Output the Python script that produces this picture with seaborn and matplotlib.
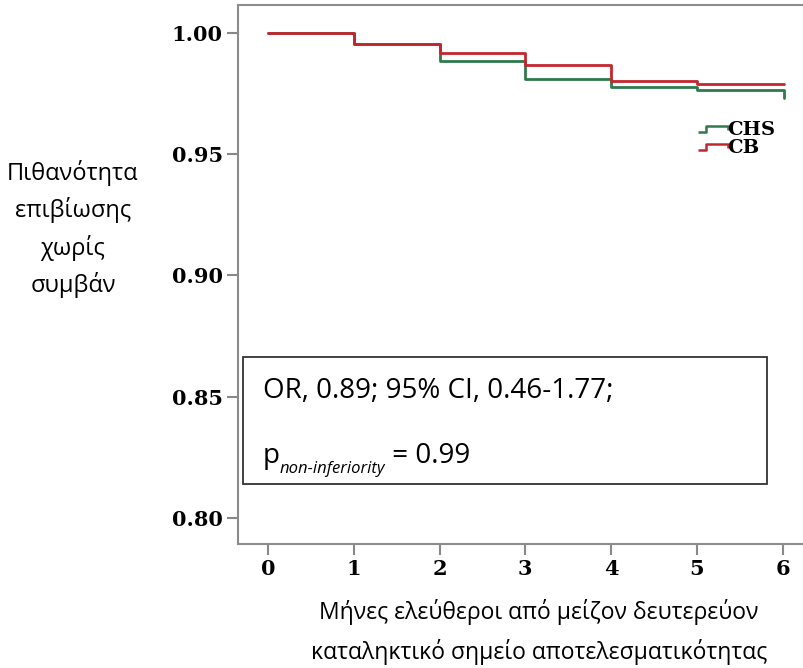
import numpy as np
import pandas as pd
import matplotlib
matplotlib.use("Agg")
import matplotlib.pyplot as plt
import seaborn as sns
from matplotlib.lines import Line2D
from matplotlib.path import Path
from matplotlib.patches import Rectangle
from matplotlib.font_manager import FontProperties

# Kaplan-Meier style step values
months_chs = [0, 1, 2, 3, 4, 5, 6.0, 6.02]
surv_chs = [1.000, 0.9955, 0.9884, 0.9808, 0.9778, 0.9765, 0.9765, 0.9732]
months_cb = [0, 1, 2, 3, 4, 5, 6.02]
surv_cb = [1.000, 0.9955, 0.9918, 0.9866, 0.9801, 0.9790, 0.9790]
groups = ["CHS", "CB"]
colors = {"CHS": "#2e7a4c", "CB": "#c4262e"}
xticks = [0, 1, 2, 3, 4, 5, 6]
yticks = [0.80, 0.85, 0.90, 0.95, 1.00]

df = pd.concat([
    pd.DataFrame({"month": months_chs, "surv": surv_chs, "group": "CHS"}),
    pd.DataFrame({"month": months_cb, "surv": surv_cb, "group": "CB"}),
])

sns.set_style("white")
plt.rcParams['font.family'] = ['Open Sans', 'DejaVu Sans']
plt.rcParams['text.color'] = 'black'

fig = plt.figure(figsize=(8.04, 6.68), dpi=100)
ax = fig.add_axes([238 / 804, 124 / 668, 566 / 804, 539 / 668])

sns.lineplot(data=df, x="month", y="surv", hue="group", palette=colors,
             estimator=None, sort=False, drawstyle="steps-post",
             linewidth=2, legend=False, ax=ax)

ax.set_xlim(-0.35, 6.25)
ax.set_ylim(0.7893, 1.0115)
ax.set_xticks(xticks)
ax.set_yticks(yticks)
ax.set_yticklabels([f"{v:.2f}" for v in yticks])
ax.set_xlabel("")
ax.set_ylabel("")

tick_fp = FontProperties(family="DejaVu Serif", weight="bold", size=15)
for lab in ax.get_xticklabels() + ax.get_yticklabels():
    lab.set_fontproperties(tick_fp)
ax.tick_params(axis="both", direction="out", length=8, width=1.5,
               color="#888888", left=True, bottom=True, pad=3, labelcolor="black")

for side in ["left", "bottom", "top"]:
    ax.spines[side].set_color("#8c8c8c")
    ax.spines[side].set_linewidth(1.5)
ax.spines["right"].set_visible(False)

# legend with small step symbols
step = Path([(-1.0, -0.2), (-0.45, -0.2), (-0.45, 0.2), (1.0, 0.2), (1.0, -0.05)],
            [Path.MOVETO, Path.LINETO, Path.LINETO, Path.LINETO, Path.LINETO])
handles = [Line2D([], [], linestyle="None", marker=step, markersize=22,
                  markerfacecolor="none", markeredgecolor=colors[g],
                  markeredgewidth=1.8) for g in groups]
ax.legend(handles, groups, loc="upper left", bbox_to_anchor=(0.818, 0.784),
          frameon=False, handlelength=1.2, handletextpad=0.15,
          labelspacing=0.0, borderpad=0, borderaxespad=0,
          prop=dict(family="DejaVu Serif", weight="bold", size=14))

# annotation box
ax.add_patch(Rectangle((5 / 566, 60 / 539), 524 / 566, 127 / 539,
                       transform=ax.transAxes, fill=False,
                       edgecolor="#333333", linewidth=1.3))
ax.text(25 / 566, 153 / 539, "OR, 0.89; 95% CI, 0.46-1.77;",
        transform=ax.transAxes, fontsize=20, va="center", ha="left")
t1 = ax.text(25 / 566, 81 / 539, "p", transform=ax.transAxes,
             fontsize=20, va="baseline", ha="left")
t2 = ax.annotate("non-inferiority", xy=(1, 0), xycoords=t1,
                 xytext=(0, -5), textcoords="offset points",
                 fontsize=12, style="italic", va="bottom", ha="left")
ax.annotate(" = 0.99", xy=(1, 0), xycoords=t2, xytext=(0, 5),
            textcoords="offset points", fontsize=20, va="bottom", ha="left")

fig.text(73 / 804, 1 - 229 / 668, "Πιθανότητα\nεπιβίωσης\nχωρίς\nσυμβάν",
         ha="center", va="center", multialignment="center",
         fontsize=17, linespacing=1.57)
fig.text(539 / 804, 1 - 632 / 668,
         "Μήνες ελεύθεροι από μείζον δευτερεύον\nκαταληκτικό σημείο αποτελεσματικότητας",
         ha="center", va="center", multialignment="center",
         fontsize=16.5, linespacing=1.72)

fig.savefig("out.png", dpi=100)
